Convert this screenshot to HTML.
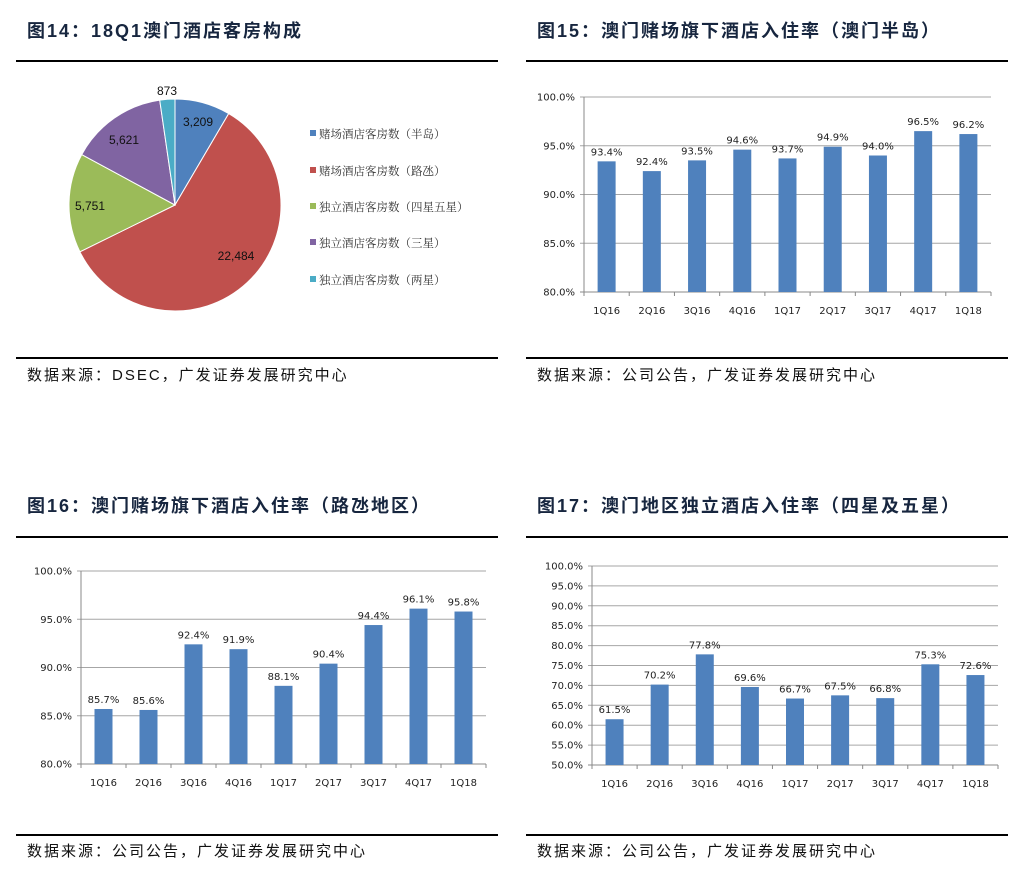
<!DOCTYPE html>
<html><head><meta charset="utf-8"><style>
html,body{margin:0;padding:0;background:#fff;width:1032px;height:872px;overflow:hidden}
svg{display:block}
.t{font-family:"Liberation Sans","Noto Sans CJK SC",sans-serif;font-weight:bold;font-size:18px;fill:#17263f;letter-spacing:2px}
.s{font-family:"Liberation Sans","Noto Sans CJK SC",sans-serif;font-size:15px;fill:#111;letter-spacing:2px}
.lg{font-family:"Liberation Serif","Noto Serif CJK SC",serif;font-size:11.5px;fill:#333}
.pl{font-family:"Liberation Sans",sans-serif;font-size:12px;fill:#111}
.ax{font-family:"DejaVu Sans",sans-serif;font-size:10px;fill:#222}
</style></head><body>
<svg id="s" width="1032" height="872" xmlns="http://www.w3.org/2000/svg">
<text class="t" x="27" y="37">图14：18Q1澳门酒店客房构成</text>
<text class="t" x="537" y="37">图15：澳门赌场旗下酒店入住率（澳门半岛）</text>
<text class="t" x="27" y="512">图16：澳门赌场旗下酒店入住率（路氹地区）</text>
<text class="t" x="537" y="512">图17：澳门地区独立酒店入住率（四星及五星）</text>
<rect x="16" y="60" width="482" height="2" fill="#000"/>
<rect x="526" y="60" width="482" height="2" fill="#000"/>
<rect x="16" y="357" width="482" height="2" fill="#000"/>
<rect x="526" y="357" width="482" height="2" fill="#000"/>
<rect x="16" y="536" width="482" height="2" fill="#000"/>
<rect x="526" y="536" width="482" height="2" fill="#000"/>
<rect x="16" y="834" width="482" height="2" fill="#000"/>
<rect x="526" y="834" width="482" height="2" fill="#000"/>
<text class="s" x="27" y="380">数据来源：DSEC，广发证券发展研究中心</text>
<text class="s" x="537" y="380">数据来源：公司公告，广发证券发展研究中心</text>
<text class="s" x="27" y="856">数据来源：公司公告，广发证券发展研究中心</text>
<text class="s" x="537" y="856">数据来源：公司公告，广发证券发展研究中心</text>
<g stroke="#fff" stroke-width="1">
<path d="M175,205 L175,99 A106,106 0 0 1 228.7,113.6 Z" fill="#4f81bd"/>
<path d="M175,205 L228.7,113.6 A106,106 0 1 1 79.9,251.8 Z" fill="#c0504d"/>
<path d="M175,205 L79.9,251.8 A106,106 0 0 1 81.7,154.6 Z" fill="#9bbb59"/>
<path d="M175,205 L81.7,154.6 A106,106 0 0 1 159.7,100.1 Z" fill="#8064a2"/>
<path d="M175,205 L159.7,100.1 A106,106 0 0 1 175,99 Z" fill="#4bacc6"/>
</g>
<text class="pl" x="198" y="126" text-anchor="middle">3,209</text>
<text class="pl" x="236" y="260" text-anchor="middle">22,484</text>
<text class="pl" x="90" y="210" text-anchor="middle">5,751</text>
<text class="pl" x="124" y="144" text-anchor="middle">5,621</text>
<text class="pl" x="167" y="95" text-anchor="middle">873</text>
<rect x="310" y="130" width="6" height="6" fill="#4f81bd"/><text class="lg" x="319" y="138">赌场酒店客房数（半岛）</text>
<rect x="310" y="167" width="6" height="6" fill="#c0504d"/><text class="lg" x="319" y="175">赌场酒店客房数（路氹）</text>
<rect x="310" y="203" width="6" height="6" fill="#9bbb59"/><text class="lg" x="319" y="211">独立酒店客房数（四星五星）</text>
<rect x="310" y="239" width="6" height="6" fill="#8064a2"/><text class="lg" x="319" y="247">独立酒店客房数（三星）</text>
<rect x="310" y="276" width="6" height="6" fill="#4bacc6"/><text class="lg" x="319" y="284">独立酒店客房数（两星）</text>
<g id="c"></g>
</svg>
<script>
var NS="http://www.w3.org/2000/svg",g=document.getElementById("c");
function el(t,a,txt){var e=document.createElementNS(NS,t);for(var k in a)e.setAttribute(k,a[k]);if(txt!=null)e.textContent=txt;g.appendChild(e);return e;}
var cats=["1Q16","2Q16","3Q16","4Q16","1Q17","2Q17","3Q17","4Q17","1Q18"];
function chart(x0,x1,yt,yb,mn,mx,st,vals,bw){
 var n=Math.round((mx-mn)/st);
 for(var i=0;i<=n;i++){var y=yb-(yb-yt)*i/n;
  el("line",{x1:x0-4,x2:x1,y1:y,y2:y,stroke:i==0?"#888":"#a6a6a6","stroke-width":1});
  el("text",{x:x0-9,y:y+3.5,"text-anchor":"end","class":"ax"},(mn+st*i).toFixed(1)+"%");}
 el("line",{x1:x0,x2:x0,y1:yt,y2:yb,stroke:"#888"});
 var cw=(x1-x0)/9;
 for(var j=0;j<=9;j++){var x=x0+cw*j;el("line",{x1:x,x2:x,y1:yb,y2:yb+4,stroke:"#888"});}
 for(var j=0;j<9;j++){var cx=x0+cw*(j+0.5),v=vals[j],y=yb-(yb-yt)*(v-mn)/(mx-mn);
  el("rect",{x:cx-bw/2,y:y,width:bw,height:yb-y,fill:"#4f81bd"});
  el("text",{x:cx,y:y-6,"text-anchor":"middle","class":"ax"},v.toFixed(1)+"%");
  el("text",{x:cx,y:yb+22,"text-anchor":"middle","class":"ax"},cats[j]);}
}
chart(584,991,97,292,80,100,5,[93.4,92.4,93.5,94.6,93.7,94.9,94.0,96.5,96.2],18);
chart(81,486,571,764,80,100,5,[85.7,85.6,92.4,91.9,88.1,90.4,94.4,96.1,95.8],18);
chart(592,998,566,765,50,100,5,[61.5,70.2,77.8,69.6,66.7,67.5,66.8,75.3,72.6],18);
</script>
</body></html>
